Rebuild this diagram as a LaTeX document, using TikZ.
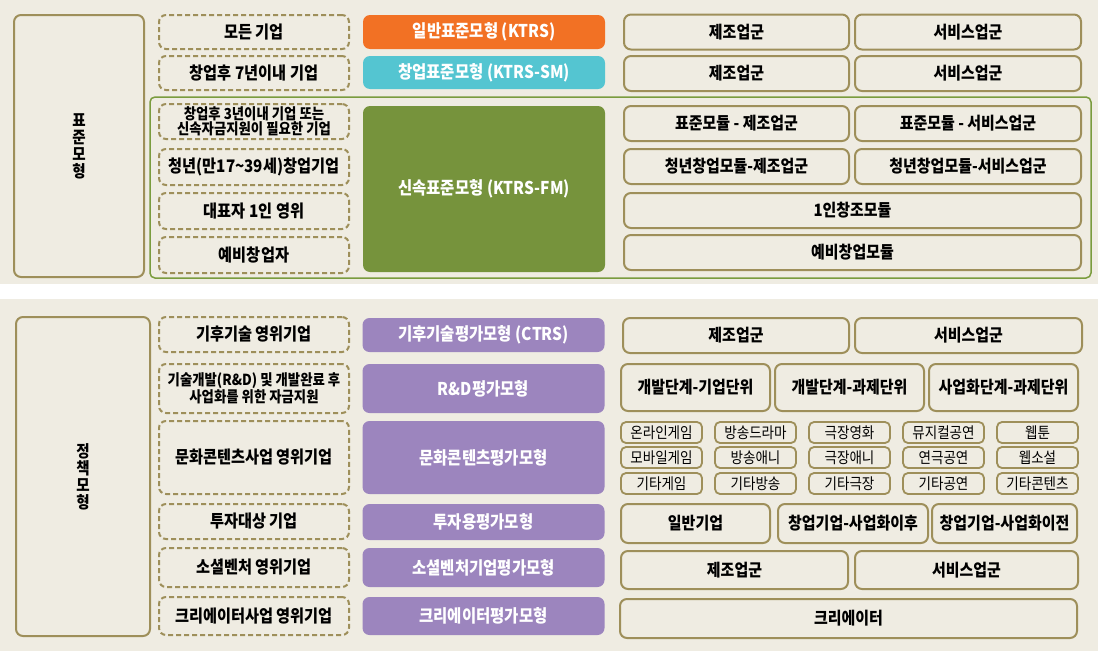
\documentclass[tikz,border=0pt]{standalone}
\usepackage{fontspec}
\setmainfont{Noto Sans CJK KR}[FakeStretch=0.88]
\usepackage{xcolor}
\usepackage{tikz}
\usetikzlibrary{positioning}

\definecolor{panelbg}{RGB}{239,236,226}
\definecolor{olivebd}{RGB}{158,143,90}
\definecolor{fmframe}{RGB}{122,156,62}
\definecolor{ktrsorange}{RGB}{242,113,36}
\definecolor{smcyan}{RGB}{84,197,209}
\definecolor{fmgreen}{RGB}{118,147,60}
\definecolor{policypurple}{RGB}{156,133,190}

\begin{document}
\begin{tikzpicture}[
    x=1pt, y=-1pt,
    node distance=6pt and 6pt,
    % Side titles (vertical text)
    sidebox/.style={rectangle, rounded corners=7pt, draw=olivebd, line width=2pt,
        inner sep=0pt, outer sep=0pt, align=center, font=\bfseries\fontsize{16.5}{17}\selectfont},
    % Target companies (dashed)
    target/.style={rectangle, rounded corners=7pt, draw=olivebd, dash pattern=on 5pt off 3pt,
        line width=2pt, inner sep=0pt, outer sep=0pt, minimum width=190, align=center,
        font=\bfseries\fontsize{17.3}{18}\selectfont},
    twoline/.style={font=\bfseries\fontsize{15.2}{15.5}\selectfont},
    % Evaluation models
    model/.style={rectangle, rounded corners=7pt, inner sep=0pt, outer sep=0pt,
        minimum width=242, text=white, font=\bfseries\fontsize{17.6}{18}\selectfont},
    % Industry / module boxes
    item/.style={rectangle, rounded corners=7pt, draw=olivebd, line width=2pt,
        inner sep=0pt, outer sep=0pt, minimum height=35, font=\bfseries\fontsize{17}{18}\selectfont},
    cell/.style={rectangle, rounded corners=5pt, draw=olivebd, line width=1.8pt,
        inner sep=0pt, outer sep=0pt, minimum width=81, minimum height=21,
        font=\fontsize{15.4}{16}\selectfont},
    fmbox/.style={draw=fmframe, line width=1.5pt, rounded corners=5pt}
]
    \useasboundingbox (0,0) rectangle (1100,651);
    \fill[white] (0,0) rectangle (1100,651);

    % Panels
    \fill[panelbg] (0,0) rectangle (1098,284);
    \fill[panelbg] (0,299) rectangle (1098,651);

    % ===== Standard models (top) =====
    \node[sidebox, minimum width=130, minimum height=262] (stdside) at (79,146) {표\\준\\모\\형};

    % Fast-track frame
    \draw[fmbox] (150,97) rectangle (1091,278);

    % Targets
    \node[target, minimum height=34] (allco) at (254,32) {모든 기업};
    \node[target, minimum height=34] (seven) at (254,73) {창업후 7년이내 기업};
    \node[target, twoline, minimum height=35] (three) at (254,121.5) {창업후 3년이내 기업 또는\\신속자금지원이 필요한 기업};
    \node[target, minimum height=36] (youth) at (254,167) {청년(만17\textasciitilde39세)창업기업};
    \node[target, minimum height=36] (solo) at (254,211) {대표자 1인 영위};
    \node[target, minimum height=36] (prestart) at (254,255) {예비창업자};

    % Models
    \node[model, fill=ktrsorange, minimum height=34] (ktrs) at (484,32) {일반표준모형 (KTRS)};
    \node[model, fill=smcyan, minimum height=33] (ktrssm) at (484,72.5) {창업표준모형 (KTRS-SM)};
    \node[model, fill=fmgreen, minimum height=166] (ktrsfm) at (484,189) {신속표준모형 (KTRS-FM)};

    % Industries / modules
    \node[item, minimum width=225] (ktrsmfg) at (736.5,32) {제조업군};
    \node[item, minimum width=226, right=of ktrsmfg] (ktrssvc) {서비스업군};
    \node[item, minimum width=225] (smmfg) at (736.5,73.5) {제조업군};
    \node[item, minimum width=226, right=of smmfg] (smsvc) {서비스업군};
    \node[item, minimum width=225] (stdmfg) at (736.5,123.5) {표준모듈 - 제조업군};
    \node[item, minimum width=226, right=of stdmfg] (stdsvc) {표준모듈 - 서비스업군};
    \node[item, minimum width=225] (youthmfg) at (736.5,166.5) {청년창업모듈-제조업군};
    \node[item, minimum width=226, right=of youthmfg] (youthsvc) {청년창업모듈-서비스업군};
    \node[item, minimum width=457] (solomod) at (852.5,210.5) {1인창조모듈};
    \node[item, minimum width=457] (premod) at (852.5,252.5) {예비창업모듈};

    % ===== Policy models (bottom) =====
    \node[sidebox, minimum width=134, minimum height=319] (polside) at (83,476.5) {정\\책\\모\\형};

    % Targets
    \node[target, minimum height=35] (climate) at (254,334.5) {기후기술 영위기업};
    \node[target, twoline, minimum height=49] (rnd) at (254,388.5) {기술개발(R\&D) 및 개발완료 후\\사업화를 위한 자금지원};
    \node[target, minimum height=73] (culture) at (254,457.5) {문화콘텐츠사업 영위기업};
    \node[target, minimum height=35] (invest) at (254,521.5) {투자대상 기업};
    \node[target, minimum height=39] (social) at (254,567.5) {소셜벤처 영위기업};
    \node[target, minimum height=38] (creator) at (254,616) {크리에이터사업 영위기업};

    % Models
    \node[model, fill=policypurple, minimum height=34] (ctrs) at (483.5,335) {기후기술평가모형 (CTRS)};
    \node[model, fill=policypurple, minimum height=49] (rndm) at (483.5,388.5) {R\&D평가모형};
    \node[model, fill=policypurple, minimum height=73] (culturem) at (483.5,457.5) {문화콘텐츠평가모형};
    \node[model, fill=policypurple, minimum height=36] (investm) at (483.5,522) {투자용평가모형};
    \node[model, fill=policypurple, minimum height=39] (socialm) at (483.5,567.5) {소셜벤처기업평가모형};
    \node[model, fill=policypurple, minimum height=38] (creatorm) at (483.5,616) {크리에이터평가모형};

    % Industries / stages
    \node[item, minimum width=226] (ctrsmfg) at (736,335.5) {제조업군};
    \node[item, minimum width=227, right=of ctrsmfg] (ctrssvc) {서비스업군};

    \node[item, minimum width=149, minimum height=47] (devco) at (695.5,387.5) {개발단계-기업단위};
    \node[item, minimum width=149, minimum height=47, right=5pt of devco] (devtask) {개발단계-과제단위};
    \node[item, minimum width=149, minimum height=47, right=5pt of devtask] (comtask) {사업화단계-과제단위};

    % Content genres
    \node[cell] (online) at (661.5,432.5) {온라인게임};
    \node[cell, right=13pt of online] (drama) {방송드라마};
    \node[cell, right=13pt of drama] (film) {극장영화};
    \node[cell, right=13pt of film] (musical) {뮤지컬공연};
    \node[cell, right=13pt of musical] (webtoon) {웹툰};
    \node[cell, below=4pt of online] (mobile) {모바일게임};
    \node[cell, right=13pt of mobile] (tvanime) {방송애니};
    \node[cell, right=13pt of tvanime] (filmanime) {극장애니};
    \node[cell, right=13pt of filmanime] (play) {연극공연};
    \node[cell, right=13pt of play] (webnovel) {웹소설};
    \node[cell, below=5pt of mobile] (othgame) {기타게임};
    \node[cell, right=13pt of othgame] (othtv) {기타방송};
    \node[cell, right=13pt of othtv] (othfilm) {기타극장};
    \node[cell, right=13pt of othfilm] (othshow) {기타공연};
    \node[cell, right=13pt of othshow] (othcont) {기타콘텐츠};

    \node[item, minimum width=149, minimum height=39] (general) at (695.5,523.5) {일반기업};
    \node[item, minimum width=150, minimum height=39, right=8pt of general] (after) {창업기업-사업화이후};
    \node[item, minimum width=145, minimum height=39, right=4pt of after] (before) {창업기업-사업화이전};

    \node[item, minimum width=227, minimum height=38] (socmfg) at (734.5,570) {제조업군};
    \node[item, minimum width=223, minimum height=38, right=7pt of socmfg] (socsvc) {서비스업군};

    \node[item, minimum width=457, minimum height=39] (creatorind) at (848.5,618.5) {크리에이터};
\end{tikzpicture}
\end{document}
